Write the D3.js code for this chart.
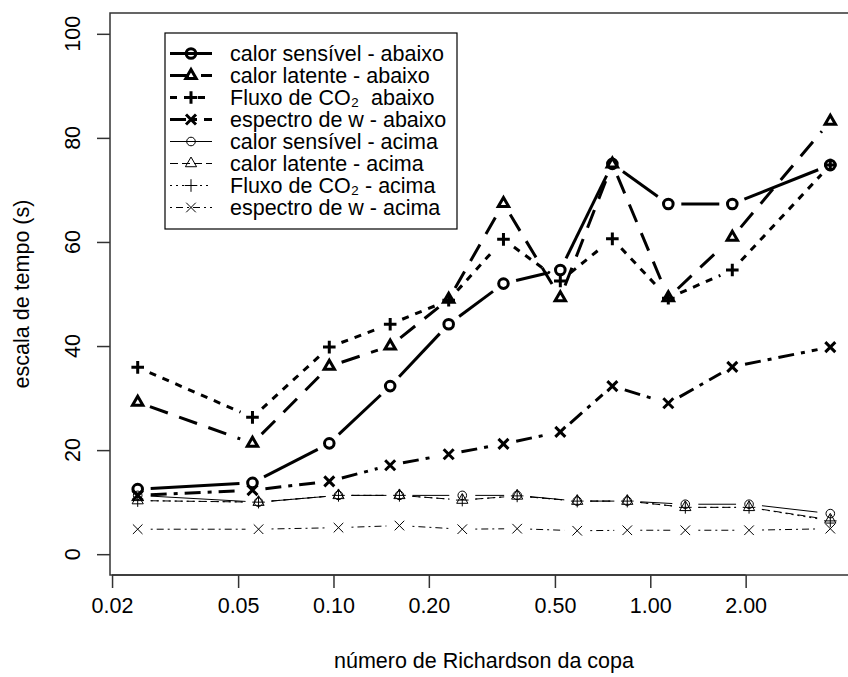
<!DOCTYPE html>
<html>
<head>
<meta charset="utf-8">
<script src="https://cdn.jsdelivr.net/npm/d3@7"></script>
<style>
  html, body { margin: 0; padding: 0; background: #fff; }
  svg { display: block; font-family: "Liberation Sans", Arial, Helvetica, sans-serif; }
</style>
</head>
<body>
<svg id="chart" width="848" height="677"></svg>
<script>
// Canopy Richardson number at each run (below / above canopy)
const riAbaixo = [0.0241, 0.0555, 0.097, 0.151, 0.231, 0.344, 0.520, 0.759, 1.14, 1.815, 3.70];
const riAcima  = [0.0241, 0.058, 0.1037, 0.1615, 0.255, 0.380, 0.588, 0.846, 1.29, 2.05, 3.70];

// Time scales (s) — below canopy
const sensAbaixo = [12.5, 13.7, 21.3, 32.3, 44.2, 52.0, 54.6, 75.0, 67.3, 67.3, 74.8];
const latAbaixo  = [29.2, 21.3, 36.1, 40.0, 49.0, 67.4, 49.3, 75.0, 49.3, 60.9, 83.2];
const co2Abaixo  = [35.9, 26.3, 39.8, 44.2, 48.8, 60.5, 52.5, 60.6, 49.2, 54.6, 74.8];
const wAbaixo    = [11.3, 12.3, 14.0, 17.1, 19.2, 21.2, 23.5, 32.3, 29.0, 36.0, 39.8];

// Time scales (s) — above canopy
const sensAcima = [11.3, 10.0, 11.3, 11.3, 11.3, 11.3, 10.2, 10.2, 9.6, 9.6, 7.8];
const latAcima  = [10.3, 10.0, 11.3, 11.3, 10.4, 11.2, 10.2, 10.2, 9.0, 9.0, 6.6];
const co2Acima  = [10.3, 10.0, 11.3, 11.3, 10.4, 11.2, 10.2, 10.2, 9.0, 9.0, 6.4];
const wAcima    = [4.8, 4.8, 5.1, 5.5, 4.8, 4.9, 4.5, 4.6, 4.6, 4.6, 4.9];

const xTicks = [0.02, 0.05, 0.10, 0.20, 0.50, 1.00, 2.00];
const yTicks = [0, 20, 40, 60, 80, 100];

const seriesLabels = [
  "calor sensível - abaixo",
  "calor latente - abaixo",
  "Fluxo de CO\u2082  abaixo",
  "espectro de w - abaixo",
  "calor sensível - acima",
  "calor latente - acima",
  "Fluxo de CO\u2082 - acima",
  "espectro de w - acima"
];

// Styles: bold = below canopy, thin = above canopy
const series = [
  { x: riAbaixo, y: sensAbaixo, sym: "circle",   lw: 3, dash: null,          bold: true },
  { x: riAbaixo, y: latAbaixo,  sym: "triangle", lw: 3, dash: "19,12",       bold: true },
  { x: riAbaixo, y: co2Abaixo,  sym: "plus",     lw: 3, dash: "7,7",         bold: true },
  { x: riAbaixo, y: wAbaixo,    sym: "cross",    lw: 3, dash: "16,7,4,7",    bold: true },
  { x: riAcima,  y: sensAcima,  sym: "circle",   lw: 1, dash: null,          bold: false },
  { x: riAcima,  y: latAcima,   sym: "triangle", lw: 1, dash: "8,4",         bold: false },
  { x: riAcima,  y: co2Acima,   sym: "plus",     lw: 1, dash: "2,4",         bold: false },
  { x: riAcima,  y: wAcima,     sym: "cross",    lw: 1, dash: "2,4,7,4",     bold: false }
];

const FS = 21.5;
const svg = d3.select("#chart");
const pLeft = 110, pRight = 858, pTop = 13, pBottom = 575;

// log x scale padded 4% on each side (in log space)
const allRi = riAbaixo.concat(riAcima);
const lmin = Math.log10(d3.min(allRi)), lmax = Math.log10(d3.max(allRi));
const pad = 0.04 * (lmax - lmin);
const x = d3.scaleLog().domain([Math.pow(10, lmin - pad), Math.pow(10, lmax + pad)]).range([pLeft, pRight]);
const y = d3.scaleLinear().domain([-4, 104]).range([pBottom, pTop]);

// plot frame
svg.append("rect")
  .attr("x", pLeft).attr("y", pTop)
  .attr("width", pRight - pLeft).attr("height", pBottom - pTop)
  .attr("fill", "none").attr("stroke", "#333").attr("stroke-width", 1.5);

// x axis
const xAxis = d3.axisBottom(x).tickValues(xTicks).tickFormat(d3.format(".2f"))
  .tickSize(13).tickPadding(10).tickSizeOuter(0);
const gx = svg.append("g").attr("transform", `translate(0,${pBottom})`).call(xAxis);
gx.select(".domain").remove();
gx.selectAll(".tick line").attr("stroke", "#333").attr("stroke-width", 1.5);
gx.selectAll(".tick text").attr("font-size", FS).attr("fill", "#000")
  .attr("font-family", "Liberation Sans, Arial, sans-serif");
svg.append("line")
  .attr("x1", x(xTicks[0])).attr("x2", x(xTicks[xTicks.length - 1]))
  .attr("y1", pBottom).attr("y2", pBottom)
  .attr("stroke", "#333").attr("stroke-width", 1.5);

// y axis with vertical labels
const yAxis = d3.axisLeft(y).tickValues(yTicks).tickSize(13).tickFormat("");
const gy = svg.append("g").attr("transform", `translate(${pLeft},0)`).call(yAxis);
gy.select(".domain").remove();
gy.selectAll(".tick line").attr("stroke", "#333").attr("stroke-width", 1.5);
svg.append("g").selectAll("text").data(yTicks).join("text")
  .attr("transform", d => `translate(80,${y(d)}) rotate(-90)`)
  .attr("text-anchor", "middle").attr("font-size", FS).attr("fill", "#000")
  .text(d => d);

// axis titles
svg.append("text")
  .attr("transform", `translate(29,${(pTop + pBottom) / 2}) rotate(-90)`)
  .attr("text-anchor", "middle").attr("font-size", FS)
  .text("escala de tempo (s)");
svg.append("text")
  .attr("x", (pLeft + pRight) / 2).attr("y", 668)
  .attr("text-anchor", "middle").attr("font-size", FS)
  .text("número de Richardson da copa");

// marker path generator
function markerPath(sym, bold) {
  if (sym === "circle") {
    const r = bold ? 4.8 : 4.3;
    return `M${r},0A${r},${r} 0 1,1 ${-r},0A${r},${r} 0 1,1 ${r},0Z`;
  }
  if (sym === "triangle") {
    const s = bold ? 5.2 : 5.6;
    const h = s * Math.sqrt(3);
    return `M0,${-h * 2 / 3}L${s},${h / 3}L${-s},${h / 3}Z`;
  }
  if (sym === "plus") {
    const a = 6.3;
    return `M${-a},0H${a}M0,${-a}V${a}`;
  }
  const a = bold ? 5 : 4.8;
  return `M${-a},${-a}L${a},${a}M${-a},${a}L${a},${-a}`;
}

// lines with gaps around each point, then the points
const gap = 13;
const plot = svg.append("g");
series.forEach(s => {
  const pts = s.x.map((v, i) => [x(v), y(s.y[i])]);
  const g = plot.append("g");
  for (let i = 0; i < pts.length - 1; i++) {
    const [x0, y0] = pts[i], [x1, y1] = pts[i + 1];
    const dx = x1 - x0, dy = y1 - y0, len = Math.hypot(dx, dy);
    if (len <= 2 * gap) continue;
    const ux = dx / len, uy = dy / len;
    g.append("line")
      .attr("x1", x0 + ux * gap).attr("y1", y0 + uy * gap)
      .attr("x2", x1 - ux * gap).attr("y2", y1 - uy * gap)
      .attr("stroke", "#000").attr("stroke-width", s.lw)
      .attr("stroke-dasharray", s.dash);
  }
  g.selectAll("path").data(pts).join("path")
    .attr("transform", d => `translate(${d[0]},${d[1]})`)
    .attr("d", markerPath(s.sym, s.bold))
    .attr("fill", "none").attr("stroke", "#000").attr("stroke-width", s.lw);
});

// legend
const lg = svg.append("g");
lg.append("rect").attr("x", 165).attr("y", 33).attr("width", 292).attr("height", 196)
  .attr("fill", "#fff").attr("stroke", "#000").attr("stroke-width", 1.2);
series.forEach((s, i) => {
  const cy = 53.5 + i * 22;
  lg.append("line").attr("x1", 170).attr("x2", 212).attr("y1", cy).attr("y2", cy)
    .attr("stroke", "#000").attr("stroke-width", s.lw).attr("stroke-dasharray", s.dash);
  lg.append("path").attr("transform", `translate(191,${cy})`)
    .attr("d", markerPath(s.sym, s.bold))
    .attr("fill", "none").attr("stroke", "#000").attr("stroke-width", s.lw);
  lg.append("text").attr("x", 230).attr("y", cy + 0.35 * FS).attr("font-size", FS)
    .style("white-space", "pre").text(seriesLabels[i]);
});
</script>
</body>
</html>
